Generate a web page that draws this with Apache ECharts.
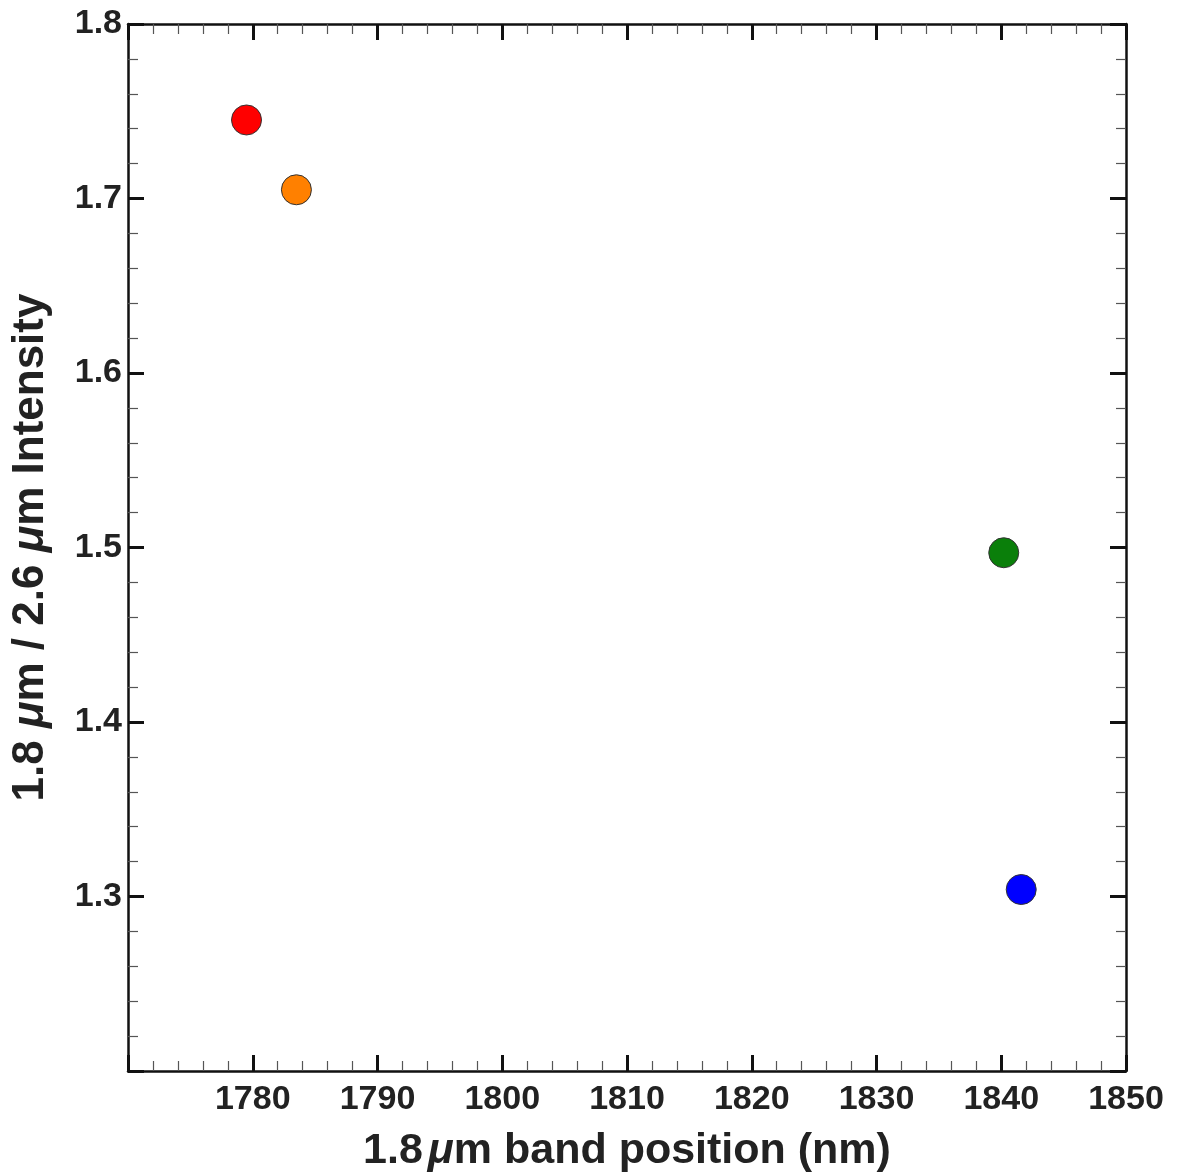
<!DOCTYPE html>
<html>
<head>
<meta charset="utf-8">
<script src="https://cdn.jsdelivr.net/npm/echarts@6/dist/echarts.min.js"></script>
<style>
html,body{margin:0;padding:0;background:#fff;}
#chart{width:1177px;height:1176px;}
</style>
</head>
<body>
<div id="chart"></div>
<script>
var bandPosition = [1779.5, 1783.5, 1840.2, 1841.6];
var intensityRatio = [1.745, 1.705, 1.497, 1.304];
var pointColors = ['#ff0000', '#ff8000', '#0a7f0a', '#0000ff'];
var xTicks = [1780, 1790, 1800, 1810, 1820, 1830, 1840, 1850];
var yTicks = [1.3, 1.4, 1.5, 1.6, 1.7, 1.8];

var FONT = '"Liberation Sans", Helvetica, Arial, sans-serif';
var chart = echarts.init(document.getElementById('chart'));

var data = bandPosition.map(function (x, i) {
  return { value: [x, intensityRatio[i]], itemStyle: { color: pointColors[i] } };
});

function axisCommon() {
  return {
    axisLine: { show: true, onZero: false, lineStyle: { color: '#111', width: 2.5 } },
    axisTick: { show: true, inside: true, length: 16, lineStyle: { color: '#111', width: 3 } },
    minorTick: { show: true, splitNumber: 5, length: 10, lineStyle: { color: '#555', width: 1.2 } },
    splitLine: { show: false },
    minorSplitLine: { show: false }
  };
}

var xBottom = Object.assign(axisCommon(), {
  type: 'value', position: 'bottom', min: 1770, max: 1850, interval: 10,
  axisLabel: {
    show: true, margin: 12, fontSize: 34, fontWeight: 'bold', color: '#222', fontFamily: FONT,
    formatter: function (v) { return xTicks.indexOf(v) >= 0 ? String(v) : ''; }
  },
  name: '1.8{s| }{i|μ}m band position (nm)',
  nameLocation: 'middle', nameGap: 59,
  nameTextStyle: {
    fontSize: 43, fontWeight: 'bold', color: '#222', fontFamily: FONT,
    rich: {
      i: { fontSize: 43, fontWeight: 'bold', fontStyle: 'italic', color: '#222', fontFamily: FONT },
      s: { fontSize: 18, fontFamily: FONT }
    }
  }
});
var xTop = Object.assign(axisCommon(), {
  type: 'value', position: 'top', min: 1770, max: 1850, interval: 10,
  axisLabel: { show: false }
});
var yLeft = Object.assign(axisCommon(), {
  type: 'value', position: 'left', min: 1.2, max: 1.8, interval: 0.1,
  axisLabel: {
    show: true, margin: 6, fontSize: 34, fontWeight: 'bold', color: '#222', fontFamily: FONT,
    formatter: function (v) {
      var r = Math.round(v * 10) / 10;
      return yTicks.indexOf(r) >= 0 ? r.toFixed(1) : '';
    }
  },
  name: '1.8 {i|μ}m / 2.6 {i|μ}m Intensity',
  nameLocation: 'middle', nameGap: 75,
  nameTextStyle: {
    fontSize: 44, fontWeight: 'bold', color: '#222', fontFamily: FONT,
    rich: {
      i: { fontSize: 44, fontWeight: 'bold', fontStyle: 'italic', color: '#222', fontFamily: FONT }
    }
  }
});
var yRight = Object.assign(axisCommon(), {
  type: 'value', position: 'right', min: 1.2, max: 1.8, interval: 0.1,
  axisLabel: { show: false }
});

chart.setOption({
  backgroundColor: '#ffffff',
  animation: false,
  grid: { left: 128, right: 51, top: 24, bottom: 105, containLabel: false, outerBoundsMode: 'none' },
  xAxis: [xBottom, xTop],
  yAxis: [yLeft, yRight],
  series: [{
    type: 'scatter',
    xAxisIndex: 0, yAxisIndex: 0,
    symbol: 'circle', symbolSize: 30,
    itemStyle: { borderColor: '#333', borderWidth: 1, opacity: 1 },
    data: data
  }]
});
</script>
</body>
</html>
